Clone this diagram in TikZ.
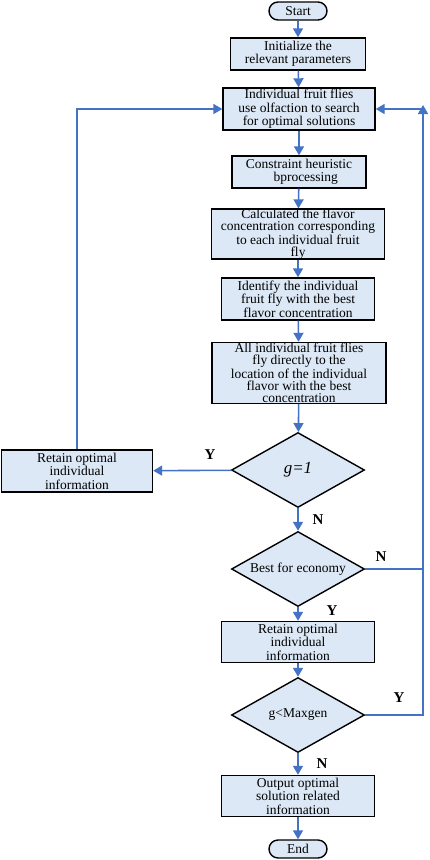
\documentclass[tikz,border=0pt]{standalone}
\usepackage{fontspec}
\setmainfont{Liberation Serif}
\usetikzlibrary{positioning}
\usetikzlibrary{shapes.geometric}
\usetikzlibrary{arrows.meta}
\definecolor{boxblue}{RGB}{220,232,245}
\definecolor{lineblue}{RGB}{68,114,196}

\tikzset{
  procbox/.style={draw=black, line width=1.4pt, fill=boxblue, align=center, inner sep=1pt,
    font=\fontsize{13.5}{13.5}\selectfont},
  tightbox/.style={procbox, inner sep=0pt, font=\fontsize{13.5}{12}\selectfont},
  termbox/.style={draw=black, line width=1.4pt, fill=boxblue, rounded corners=9pt,
    minimum width=58pt, minimum height=18pt, inner sep=0pt, font=\fontsize{13.5}{13.5}\selectfont},
  decbox/.style={draw=black, line width=1.4pt, fill=boxblue, diamond, inner sep=0pt,
    minimum width=133pt, minimum height=75pt, font=\fontsize{13.5}{13.5}\selectfont},
  flow/.style={draw=lineblue, line width=1.6pt, -{Triangle[length=9pt,width=10pt]}},
  flowline/.style={draw=lineblue, line width=1.6pt},
  yn/.style={font=\fontsize{15}{16}\selectfont\bfseries}
}
\newcommand{\decisiontext}[1]{\makebox[0pt]{#1}}

\begin{document}
\begin{tikzpicture}[x=1pt, y=-1pt]

\useasboundingbox (0,0) rectangle (429,860);

% main column
\node[termbox] (start) at (298,11) {Start};
\node[procbox, minimum width=135pt, minimum height=32pt] (init) at (298,54)
  {Initialize the\\relevant parameters};
\node[procbox, minimum width=152pt, minimum height=42pt] (olf) at (299,109)
  {Individual fruit flies\\use olfaction to search\\for optimal solutions};
\node[procbox, minimum width=134pt, minimum height=32pt] (cons) at (299,172)
  {Constraint heuristic\\\quad bprocessing};
\node[tightbox, minimum width=173pt, minimum height=42pt] (calc) at (298,234)
  {Calculated the flavor\\concentration corresponding\\to each individual fruit\\fly};
\node[procbox, minimum width=153pt, minimum height=42pt] (ident) at (298,299)
  {Identify the individual\\fruit fly with the best\\flavor concentration};
\node[tightbox, minimum width=174pt, minimum height=61pt] (all) at (299,373)
  {All individual fruit flies\\fly directly to the\\location of the individual\\flavor with the best\\concentration};
\node[decbox] (gone) at (298,470) {\decisiontext{\fontsize{17}{18}\selectfont\textit{g=1}}};
\node[procbox, minimum width=151pt, minimum height=42pt] (retleft) at (77,471)
  {Retain optimal\\individual\\information};
\node[decbox] (best) at (298,569) {\decisiontext{Best for economy}};
\node[procbox, minimum width=153pt, minimum height=41pt] (retain) at (298,642)
  {Retain optimal\\individual\\information};
\node[decbox] (gmax) at (298,715) {\decisiontext{g<Maxgen}};
\node[procbox, minimum width=153pt, minimum height=41pt] (output) at (298,796)
  {Output optimal\\solution related\\information};
\node[termbox] (end) at (298,849) {End};

% straight arrows
\draw[flow] (start) -- (init);
\draw[flow] (init) -- (olf);
\draw[flow] (olf) -- (cons);
\draw[flow] (cons) -- (calc);
\draw[flow] (calc) -- (ident);
\draw[flow] (ident) -- (all);
\draw[flow] (all) -- (gone);
\draw[flow] (gone) -- (retleft);
\draw[flow] (gone) -- (best);
\draw[flow] (best) -- (retain);
\draw[flow] (retain) -- (gmax);
\draw[flow] (gmax) -- (output);
\draw[flow] (output) -- (end);

% loops back
\draw[flow] (retleft.north) |- (olf.west);
\coordinate (loopR) at (423,569);
\coordinate (loopTop) at (423,109);
\draw[flowline] (best.east) -- (loopR);
\draw[flowline] (gmax.east) -| (loopR);
\draw[flow] (loopR) -- ([yshift=4pt]loopTop);
\draw[flow] ([xshift=0.8pt]loopTop) -- (olf.east);

% Y / N labels
\node[yn] (ylabA) at (210,455) {Y};
\node[yn] (nlabA) at (318,520) {N};
\node[yn] (nlabB) at (381,557) {N};
\node[yn] (ylabB) at (332,611) {Y};
\node[yn] (ylabC) at (399,698) {Y};
\node[yn] (nlabC) at (322,764) {N};

\end{tikzpicture}
\end{document}
